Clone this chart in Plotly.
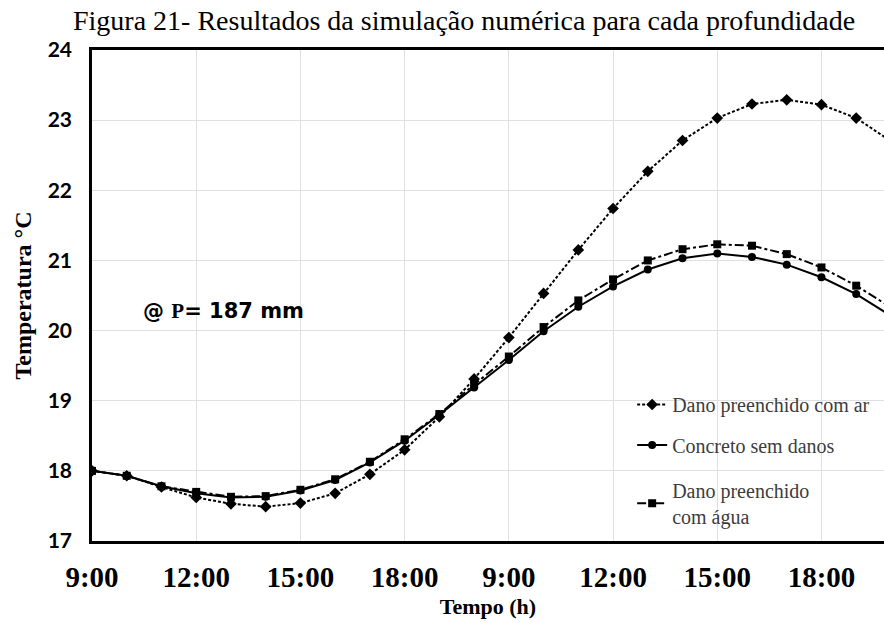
import plotly.graph_objects as go

# Hourly simulation steps (relative hour index along the x axis)
horas = list(range(24))

# Temperature (°C) at depth p = 187 mm
dano_ar = [18.00, 17.93, 17.77, 17.62, 17.53, 17.49, 17.54, 17.68, 17.95, 18.30,
           18.77, 19.31, 19.90, 20.53, 21.15, 21.74, 22.27, 22.71, 23.03, 23.23,
           23.29, 23.22, 23.03, 22.70]
concreto = [18.00, 17.93, 17.78, 17.68, 17.62, 17.63, 17.72, 17.87, 18.12, 18.43,
            18.80, 19.19, 19.58, 19.99, 20.34, 20.63, 20.87, 21.03, 21.10, 21.05,
            20.94, 20.76, 20.52, 20.21]
dano_agua = [18.00, 17.93, 17.78, 17.70, 17.63, 17.64, 17.73, 17.88, 18.13, 18.45,
             18.81, 19.23, 19.63, 20.05, 20.43, 20.73, 21.00, 21.16, 21.23, 21.21,
             21.09, 20.90, 20.64, 20.33]

tick_vals = [0, 3, 6, 9, 12, 15, 18, 21]
tick_text = ["9:00", "12:00", "15:00", "18:00", "9:00", "12:00", "15:00", "18:00"]

serif = "Liberation Serif, Times New Roman, serif"
legend_font = dict(family=serif, size=20, color="#3c3c3c")

fig = go.Figure()

fig.add_trace(go.Scatter(
    x=horas, y=dano_ar, mode="lines+markers", name="Dano preenchido com ar",
    line=dict(color="black", width=2, dash="3px,2px"),
    marker=dict(symbol="diamond", size=9, color="black"),
    legend="legend",
))
fig.add_trace(go.Scatter(
    x=horas, y=concreto, mode="lines+markers", name="Concreto sem danos",
    line=dict(color="black", width=2),
    marker=dict(symbol="circle", size=8, color="black"),
    legend="legend2",
))
fig.add_trace(go.Scatter(
    x=horas, y=dano_agua, mode="lines+markers", name="Dano preenchido<br>com água",
    line=dict(color="black", width=2, dash="9px,3px,3px,3px"),
    marker=dict(symbol="square", size=8, color="black"),
    legend="legend3",
))

legend_common = dict(font=legend_font, bgcolor="rgba(0,0,0,0)", xanchor="left",
                     yanchor="middle", itemwidth=30)

fig.update_layout(
    width=884, height=622,
    margin=dict(l=92, r=0, t=50, b=81),
    paper_bgcolor="white", plot_bgcolor="white",
    showlegend=True,
    legend=dict(x=0.682, y=0.278, **legend_common),
    legend2=dict(x=0.682, y=0.1955, **legend_common),
    legend3=dict(x=0.682, y=0.077, **legend_common),
    title=dict(
        text="Figura 21- Resultados da simulação numérica para cada profundidade",
        font=dict(family=serif, size=28, color="black"),
        x=0.525, xanchor="center", y=0.967, yanchor="middle",
    ),
    xaxis=dict(
        range=[0, 22.8], tickvals=tick_vals, ticktext=tick_text,
        showgrid=True, gridcolor="#e0e0e0", gridwidth=1,
        showline=True, linecolor="black", linewidth=2.5, mirror=True,
        ticks="", ticklabelstandoff=8, zeroline=False,
        tickfont=dict(family=serif, size=29, color="black", weight="bold"),
        title=dict(text="Tempo (h)", standoff=8,
                   font=dict(family=serif, size=22, color="black", weight="bold")),
    ),
    yaxis=dict(
        range=[17, 24], dtick=1,
        showgrid=True, gridcolor="#e0e0e0", gridwidth=1,
        showline=True, linecolor="black", linewidth=2.5, mirror=False,
        ticks="", ticklabelstandoff=13, zeroline=False,
        tickfont=dict(family="Lato, Liberation Sans, sans-serif", size=21,
                      color="black", weight="bold"),
        title=dict(text="Temperatura °C", standoff=10,
                   font=dict(family=serif, size=24, color="black", weight="bold")),
    ),
)

fig.add_annotation(
    x=0.062, y=0.468, xref="paper", yref="paper", xanchor="left", yanchor="middle",
    showarrow=False,
    text="@ <span style='font-family:Liberation Serif'>P</span>= 187 mm",
    font=dict(family="DejaVu Sans, Liberation Sans, sans-serif", size=21,
              color="black", weight="bold"),
)

fig.write_html("out.html")
